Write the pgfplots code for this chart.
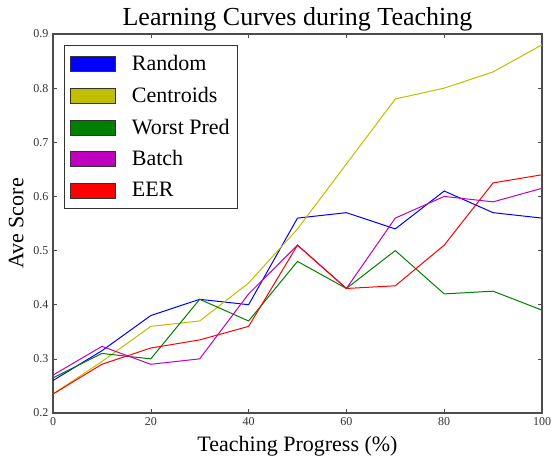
\documentclass[border=0pt]{standalone}
\usepackage{pgfplots}
\pgfplotsset{compat=1.18}
\usepackage{fontspec}
\setmainfont{Liberation Serif}
\begin{document}
\begin{tikzpicture}
\begin{axis}[
  at={(0pt,0pt)}, anchor=south west,
  scale only axis, width=489pt, height=379pt,
  xmin=0, xmax=100, ymin=0.2, ymax=0.9,
  xtick={0,20,40,60,80,100},
  ytick={0.2,0.3,0.4,0.5,0.6,0.7,0.8,0.9},
  yticklabel style={/pgf/number format/fixed, /pgf/number format/precision=1, /pgf/number format/fixed zerofill},
  /pgf/number format/assume math mode=true,
  tick align=inside, major tick length=4pt,
  tick style={color=black!70, line width=0.6pt},
  axis line style={color=black!70, line width=1.3pt},
  ticklabel style={font=\fontsize{12}{14}\selectfont, color=black!80},
  xticklabel style={yshift=-1pt},
  yticklabel style={xshift=-1pt},
  title={Learning Curves during Teaching},
  title style={font=\fontsize{26}{30}\selectfont, yshift=-7pt},
  xlabel={Teaching Progress (\%)},
  ylabel={Ave Score},
  label style={font=\fontsize{22}{26}\selectfont},
  xlabel style={yshift=-4pt},
  ylabel style={yshift=3pt},
  legend cell align=left,
  legend style={at={(0.0225,0.971)}, anchor=north west, draw=black!80, line width=0.8pt,
    font=\fontsize{22}{26}\selectfont, row sep=11pt, inner xsep=6pt, inner ysep=8pt,
    /tikz/every odd column/.append style={column sep=14pt}},
  legend image code/.code={\draw[#1, fill, draw=black!80, line width=0.5pt] (0pt,-7.5pt) rectangle (45pt,7.5pt);},
  every axis plot/.append style={line width=1pt},
]
\addplot[color={rgb,1:red,0;green,0;blue,1}] coordinates {(0,0.26) (10,0.315) (20,0.38) (30,0.41) (40,0.40) (50,0.56) (60,0.57) (70,0.54) (80,0.61) (90,0.57) (100,0.56)};
\addlegendentry{Random}
\addplot[color={rgb,1:red,0.75;green,0.75;blue,0}] coordinates {(0,0.235) (10,0.295) (20,0.36) (30,0.37) (40,0.44) (50,0.54) (60,0.66) (70,0.78) (80,0.80) (90,0.83) (100,0.88)};
\addlegendentry{Centroids}
\addplot[color={rgb,1:red,0;green,0.5;blue,0}] coordinates {(0,0.265) (10,0.31) (20,0.30) (30,0.41) (40,0.37) (50,0.48) (60,0.43) (70,0.50) (80,0.42) (90,0.425) (100,0.39)};
\addlegendentry{Worst Pred}
\addplot[color={rgb,1:red,0.75;green,0;blue,0.75}] coordinates {(0,0.27) (10,0.323) (20,0.29) (30,0.30) (40,0.42) (50,0.51) (60,0.43) (70,0.56) (80,0.60) (90,0.59) (100,0.615)};
\addlegendentry{Batch}
\addplot[color={rgb,1:red,1;green,0;blue,0}] coordinates {(0,0.235) (10,0.29) (20,0.32) (30,0.335) (40,0.36) (50,0.51) (60,0.43) (70,0.435) (80,0.51) (90,0.625) (100,0.64)};
\addlegendentry{EER}
\end{axis}
\pgfresetboundingbox
\path[use as bounding box] (-53pt,-43pt) rectangle (500pt,413pt);
\end{tikzpicture}
\end{document}
